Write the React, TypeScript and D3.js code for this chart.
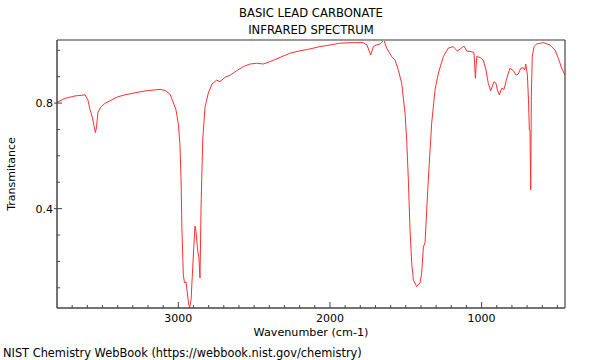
import React from "react";
import * as d3 from "d3";

const titleLines = ["BASIC LEAD CARBONATE", "INFRARED SPECTRUM"];
const xLabel = "Wavenumber (cm-1)";
const yLabel = "Transmitance";
const footer = "NIST Chemistry WebBook (https://webbook.nist.gov/chemistry)";

const xMajorTicks = [3000, 2000, 1000];
const yMajorTicks = [0.4, 0.8];

const wavenumbers = [
  3800, 3747, 3681, 3615, 3596, 3582, 3569, 3547, 3540, 3530, 3510, 3483, 3450, 3398, 3352, 3286,
  3220, 3154, 3121, 3088, 3055, 3035, 3015, 2999, 2989, 2982, 2976, 2967, 2959, 2949, 2943, 2933,
  2926, 2916, 2901, 2890, 2883, 2873, 2864, 2857, 2850, 2839, 2824, 2802, 2778, 2747, 2725, 2692,
  2659, 2615, 2571, 2527, 2483, 2440, 2395, 2329, 2263, 2198, 2132, 2066, 2000, 1934, 1848, 1782,
  1756, 1731, 1714, 1696, 1670, 1644, 1626, 1593, 1571, 1549, 1527, 1505, 1494, 1483, 1472, 1461,
  1450, 1428, 1406, 1395, 1384, 1373, 1362, 1345, 1329, 1307, 1285, 1252, 1220, 1187, 1160, 1142,
  1116, 1098, 1065, 1050, 1041, 1032, 1010, 989, 971, 956, 940, 918, 905, 896, 883, 867,
  852, 834, 813, 791, 773, 758, 742, 725, 716, 709, 698, 691, 685, 681, 676, 672,
  666, 654, 637, 593, 549, 516, 494, 472, 450,
];

const transmittance = [
  0.803, 0.818, 0.827, 0.831, 0.812, 0.774, 0.751, 0.688, 0.706, 0.766, 0.786, 0.799, 0.809, 0.824, 0.831, 0.839,
  0.846, 0.85, 0.852, 0.848, 0.834, 0.805, 0.774, 0.717, 0.641, 0.509, 0.319, 0.149, 0.119, 0.122, 0.092, 0.043,
  0.024, 0.054, 0.221, 0.334, 0.312, 0.244, 0.213, 0.137, 0.406, 0.66, 0.785, 0.838, 0.872, 0.887, 0.881, 0.898,
  0.905, 0.923, 0.938, 0.948, 0.951, 0.948, 0.957, 0.973, 0.989, 0.998, 1.005, 1.014, 1.02, 1.027, 1.029, 1.029,
  1.02, 0.982, 1.014, 1.02, 1.024, 1.039, 1.008, 0.976, 0.963, 0.925, 0.875, 0.762, 0.66, 0.509, 0.319, 0.194,
  0.13, 0.105, 0.119, 0.156, 0.255, 0.27, 0.395, 0.573, 0.725, 0.85, 0.914, 0.976, 1.008, 1.014, 0.997, 1.005,
  1.016, 0.997, 0.995, 0.991, 0.894, 0.976, 0.973, 0.963, 0.925, 0.875, 0.847, 0.881, 0.875, 0.85, 0.831, 0.856,
  0.852, 0.894, 0.932, 0.923, 0.906, 0.91, 0.932, 0.934, 0.925, 0.948, 0.906, 0.812, 0.698, 0.698, 0.471, 0.824,
  0.976, 1.014, 1.024, 1.029, 1.02, 1.001, 0.97, 0.932, 0.906,
];

const W = 600;
const H = 360;
const left = 57;
const right = 565;
const top = 40;
const bottom = 308;
const FONT = "DejaVu Sans, sans-serif";

export default function App() {
  const x = d3.scaleLinear().domain([3800, 450]).range([left, right]);
  const y = d3.scaleLinear().domain([0.0235, 1.039]).range([bottom, top]);

  const pts: [number, number][] = wavenumbers.map((w, i) => [w, transmittance[i]]);
  const line = d3
    .line<[number, number]>()
    .x((d) => x(d[0]))
    .y((d) => y(d[1]));

  const xMinor = d3.range(3700, 449, -100);
  const yMinor = d3.range(1, 11).map((v) => v / 10);

  return (
    <svg
      width={W}
      height={H}
      viewBox={`0 0 ${W} ${H}`}
      style={{ position: "absolute", left: 0, top: 0, background: "#fff" }}
    >
      <rect x={0} y={0} width={W} height={H} fill="#fff" />
      {titleLines.map((t, i) => (
        <text key={t} x={311} y={17 + i * 17} textAnchor="middle" fontFamily={FONT} fontSize={11.6} fill="#000">
          {t}
        </text>
      ))}
      <g fill="none">
        <path d={line(pts) || ""} stroke="#ff3030" strokeWidth={1} strokeLinejoin="round" />
      </g>
      {/* frame */}
      <line x1={left} y1={top} x2={right} y2={top} stroke="#999" strokeWidth={2} />
      <line x1={right} y1={top} x2={right} y2={bottom} stroke="#444" strokeWidth={1.2} />
      <line x1={left} y1={top} x2={left} y2={bottom} stroke="#444" strokeWidth={1.5} />
      <line x1={left} y1={bottom} x2={right} y2={bottom} stroke="#444" strokeWidth={1.5} />
      {/* x ticks */}
      {xMinor.map((v) => {
        const major = xMajorTicks.includes(v);
        return (
          <line key={"xt" + v} x1={x(v)} x2={x(v)} y1={bottom} y2={bottom - (major ? 6 : 3)} stroke="#444" strokeWidth={1} />
        );
      })}
      {xMajorTicks.map((v) => (
        <text key={"xl" + v} x={x(v)} y={322} textAnchor="middle" fontFamily={FONT} fontSize={11} fill="#000">
          {v}
        </text>
      ))}
      {/* y ticks */}
      {yMinor.map((v) => {
        const major = yMajorTicks.some((m) => Math.abs(m - v) < 1e-6);
        return (
          <line
            key={"yt" + v}
            x1={major ? left - 3 : left}
            x2={left + (major ? 5 : 3)}
            y1={y(v)}
            y2={y(v)}
            stroke="#444"
            strokeWidth={1}
          />
        );
      })}
      {yMajorTicks.map((v) => (
        <text key={"yl" + v} x={53} y={y(v) + 4} textAnchor="end" fontFamily={FONT} fontSize={11} fill="#000">
          {v.toFixed(1)}
        </text>
      ))}
      <text x={311} y={336} textAnchor="middle" fontFamily={FONT} fontSize={11.2} fill="#000">
        {xLabel}
      </text>
      <text
        transform={`translate(15, ${(top + bottom) / 2}) rotate(-90)`}
        textAnchor="middle"
        fontFamily={FONT}
        fontSize={11}
        fill="#000"
      >
        {yLabel}
      </text>
      <text x={3} y={357} fontFamily={FONT} fontSize={11.4} fill="#000">
        {footer}
      </text>
    </svg>
  );
}
